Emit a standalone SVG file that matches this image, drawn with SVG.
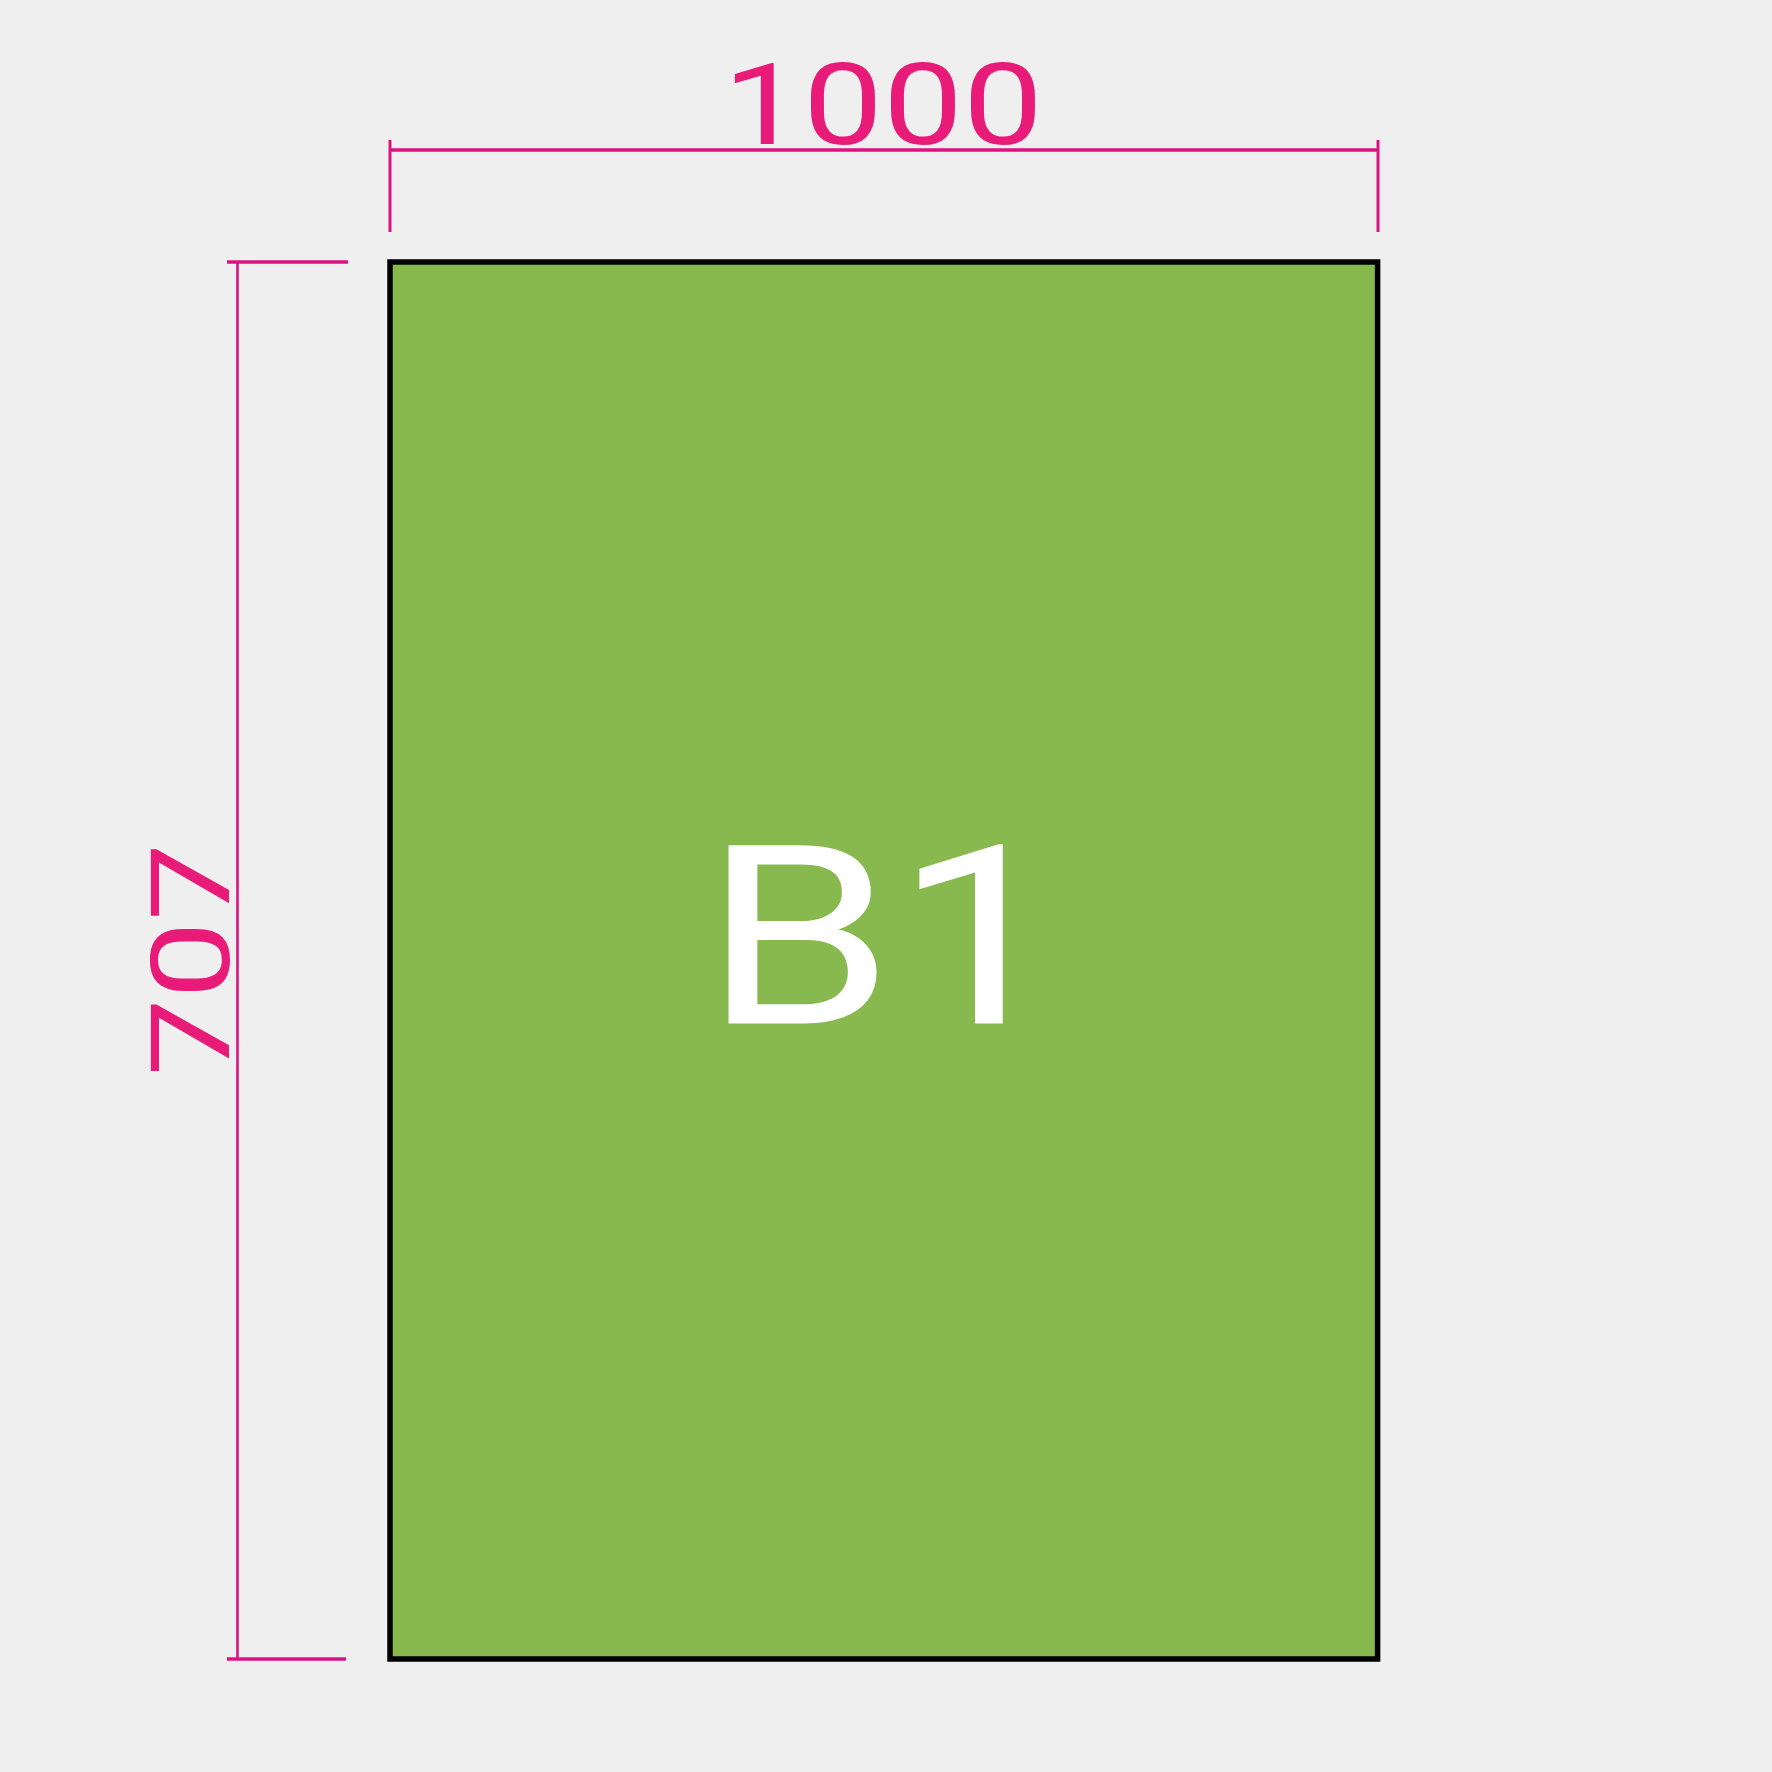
<svg xmlns="http://www.w3.org/2000/svg" width="1772" height="1772" viewBox="0 0 1772 1772">
<style>
.dim{stroke:#DC1283;fill:none}
.lbl{font-family:Roboto,"Liberation Sans",Arial,sans-serif;font-weight:400;fill:#E81B78}
</style>
<rect width="1772" height="1772" fill="#EFEFEF"/>
<g id="connectors">
<line class="dim" x1="390" y1="150" x2="1378" y2="150" stroke-width="3.5"/>
<line class="dim" x1="390" y1="140" x2="390" y2="232" stroke-width="3"/>
<line class="dim" x1="1378" y1="140" x2="1378" y2="232" stroke-width="3"/>
<line class="dim" x1="237.5" y1="262" x2="237.5" y2="1659" stroke-width="2.6"/>
<line class="dim" x1="227" y1="262" x2="348" y2="262" stroke-width="3.5"/>
<line class="dim" x1="227" y1="1659" x2="346" y2="1659" stroke-width="3.5"/>
</g>
<g id="sheet">
<rect x="390" y="262" width="987.6" height="1397" fill="#88B94F" stroke="#000" stroke-width="5.5"/>
<text x="703.3" y="1023.5" font-family="Roboto, Liberation Sans, Arial, sans-serif" font-weight="400" font-size="250.8" fill="#FFFFFF" textLength="362.5" lengthAdjust="spacingAndGlyphs">B1</text>
</g>
<g id="width-label">
<text class="lbl" x="723" y="144" font-size="113.5" textLength="320" lengthAdjust="spacingAndGlyphs">1000</text>
</g>
<g id="height-label">
<text class="lbl" transform="translate(229,1076.3) rotate(-90)" x="0" y="0" font-size="110" textLength="233" lengthAdjust="spacingAndGlyphs">707</text>
</g>
</svg>
